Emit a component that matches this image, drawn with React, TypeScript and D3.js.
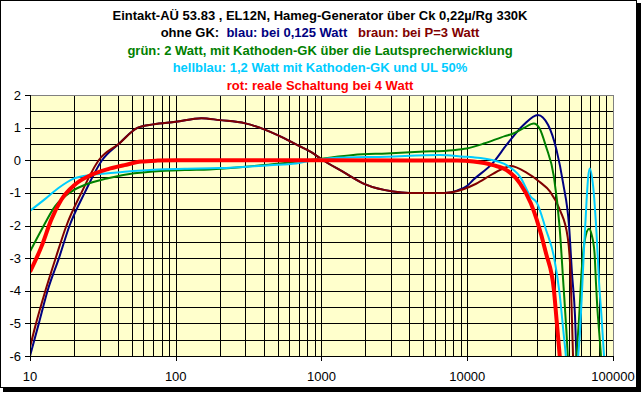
import { line, curveMonotoneX, range, scaleLinear, scaleLog } from "d3";

// frequency (Hz) and level (dB) per curve
const blueFreq = [10, 11.5, 13.2, 15.8, 18.7, 23.7, 31.2, 40.6, 55, 70, 100, 150, 200, 300, 500, 700, 850, 1000, 1400, 2000, 3100, 4000, 7000, 8500, 10000, 11000, 15000, 18600, 24300, 30500, 35900, 41000, 45500, 50000, 52300, 54900, 56500];
const blueDb = [-6, -5, -4, -3, -2, -1, 0, 0.5, 1, 1.1, 1.18, 1.29, 1.23, 1.13, 0.77, 0.44, 0.25, 0.03, -0.35, -0.74, -0.96, -1.0, -1.0, -0.93, -0.78, -0.6, -0.08, 0.47, 1.08, 1.39, 1.08, 0.31, -0.71, -2.04, -3.46, -4.79, -6.4];

const brownFreq = [10, 11, 12.75, 15, 17.8, 22.5, 29.6, 40.6, 55, 70, 100, 150, 200, 300, 500, 700, 850, 1000, 1400, 2000, 3100, 4000, 7000, 9500, 11500, 15000, 19800, 25500, 31300, 37000, 43200, 48800, 51100, 52300, 53500];
const brownDb = [-5.73, -5, -4, -3, -2, -1, 0, 0.5, 1, 1.1, 1.18, 1.29, 1.23, 1.13, 0.77, 0.44, 0.25, 0.03, -0.35, -0.74, -0.96, -1.0, -1.0, -0.88, -0.72, -0.42, -0.18, -0.38, -0.66, -0.96, -1.52, -2.34, -3.46, -4.9, -6.4];

const greenFreq = [10, 12, 14.8, 19.2, 23.7, 34.3, 52, 115, 170, 335, 520, 1000, 1650, 2800, 4700, 8000, 9900, 13200, 18100, 20700, 24700, 28600, 31300, 34700, 39300, 43000, 45800, 48000, 49500, 52500, 56200, 58600, 60800, 64100, 68500, 71500, 74700, 76400, 78000, 80500, 82400, 84000];
const greenDb = [-2.8, -2.13, -1.42, -0.96, -0.76, -0.55, -0.4, -0.3, -0.28, -0.18, -0.1, 0.05, 0.16, 0.21, 0.26, 0.31, 0.36, 0.52, 0.74, 0.82, 1.0, 1.13, 0.98, 0.42, -0.5, -2.04, -3.88, -5.3, -6.4, -8, -6.0, -4.79, -3.46, -2.44, -2.1, -2.3, -2.85, -3.75, -4.5, -5.3, -5.9, -6.5];

const lightFreq = [10, 12.6, 15.6, 20.3, 26.3, 34.3, 44.5, 75, 115, 200, 440, 670, 790, 1000, 1140, 2800, 6500, 9500, 11000, 15000, 18600, 23000, 27300, 30000, 34700, 39300, 43000, 45800, 47500, 49000, 53000, 57700, 59300, 60900, 63200, 65900, 67600, 69300, 73100, 77100, 80300, 83400, 86500, 88000];
const lightDb = [-1.55, -1.2, -0.86, -0.55, -0.45, -0.4, -0.35, -0.28, -0.26, -0.24, -0.15, -0.1, -0.04, 0.03, 0.06, 0.11, 0.16, 0.11, 0.09, 0.0, -0.15, -0.5, -1.12, -1.3, -2.13, -2.95, -4.08, -5.3, -6.0, -6.8, -8, -6.0, -5.3, -4.28, -2.75, -1.22, -0.5, -0.25, -0.81, -2.24, -3.77, -4.79, -5.9, -6.5];

const redFreq = [10, 12, 14, 16.4, 20.3, 26.3, 34.3, 44.5, 58, 75, 100, 1000, 8500, 11000, 15000, 18600, 23000, 27300, 30000, 34700, 39300, 41000, 43100, 44500];
const redDb = [-3.42, -2.64, -1.82, -1.21, -0.75, -0.45, -0.27, -0.15, -0.04, -0.01, 0, 0, -0.01, -0.04, -0.15, -0.3, -0.71, -1.32, -1.83, -2.85, -3.97, -4.89, -6.0, -6.8];

const xTickLabels = [10, 100, 1000, 10000, 100000];
const yTickLabels = [2, 1, 0, -1, -2, -3, -4, -5, -6];

const titleLines = [
  [{ t: "Eintakt-AÜ 53.83 , EL12N, Hameg-Generator über Ck 0,22µ/Rg 330K", c: "#000000" }],
  [
    { t: "ohne GK:  ", c: "#000000" },
    { t: "blau: bei 0,125 Watt   ", c: "#000080" },
    { t: "braun: bei P=3 Watt", c: "#800000" },
  ],
  [{ t: "grün: 2 Watt, mit Kathoden-GK über die Lautsprecherwicklung", c: "#008000" }],
  [{ t: "hellblau: 1,2 Watt mit Kathoden-GK und UL 50%", c: "#00CCFF" }],
  [{ t: "rot: reale Schaltung bei 4 Watt", c: "#FF0000" }],
];

const series = [
  { freq: blueFreq, db: blueDb, color: "#000080", w: 2 },
  { freq: brownFreq, db: brownDb, color: "#800000", w: 2 },
  { freq: greenFreq, db: greenDb, color: "#008000", w: 2 },
  { freq: lightFreq, db: lightDb, color: "#00CCFF", w: 2 },
  { freq: redFreq, db: redDb, color: "#FF0000", w: 4 },
];

const W = 642;
const H = 393;
const plot = { left: 30, right: 613, top: 95, bottom: 356 };
const font = "'Liberation Sans', Arial, sans-serif";

const App = () => {
  const x = scaleLog().domain([10, 100000]).range([plot.left, plot.right]);
  const y = scaleLinear().domain([-6, 2]).range([plot.bottom, plot.top]);
  const px = (v: number) => Math.round(v) + 0.5;

  const path = line<[number, number]>()
    .x((d) => x(d[0]))
    .y((d) => y(d[1]))
    .curve(curveMonotoneX);

  const gridY = range(-6, 2.01, 0.5);
  const gridX = x.ticks();

  return (
    <svg width={W} height={H} style={{ position: "absolute", left: 0, top: 0, fontFamily: font }}>
      <rect x={0} y={0} width={W} height={H} fill="#ffffff" />
      {/* chart frame with shadow */}
      <rect x={3} y={3} width={638} height={389} fill="#000000" />
      <rect x={0.5} y={0.5} width={636} height={387} fill="#ffffff" stroke="#000000" />

      {titleLines.map((segs, i) => (
        <text key={`t-${i}`} x={320} y={19.5 + i * 17.5} textAnchor="middle" fontSize={13} fontWeight="bold" style={{ whiteSpace: "pre" }}>
          {segs.map((s, j) => (
            <tspan key={j} fill={s.c}>
              {s.t}
            </tspan>
          ))}
        </text>
      ))}

      <rect x={plot.left} y={plot.top} width={plot.right - plot.left} height={plot.bottom - plot.top} fill="#FFFFCC" />
      <clipPath id="plotClip">
        <rect x={plot.left} y={plot.top} width={plot.right - plot.left} height={plot.bottom - plot.top} />
      </clipPath>

      <g stroke="#000000" strokeWidth={1} shapeRendering="crispEdges">
        {gridY.map((v) => (
          <line key={`gy-${v}`} x1={plot.left} x2={plot.right} y1={px(y(v))} y2={px(y(v))} />
        ))}
        {gridX.map((f) => (
          <line key={`gx-${f}`} x1={px(x(f))} x2={px(x(f))} y1={plot.top} y2={plot.bottom} />
        ))}
      </g>
      <rect x={plot.left + 0.5} y={plot.top + 0.5} width={plot.right - plot.left} height={plot.bottom - plot.top} fill="none" stroke="#808080" shapeRendering="crispEdges" />

      <g clipPath="url(#plotClip)" fill="none" strokeLinejoin="round">
        {series.map((s, i) => (
          <path
            key={`s-${i}`}
            d={path(s.freq.map((f, k) => [f, s.db[k]] as [number, number])) ?? ""}
            stroke={s.color}
            strokeWidth={s.w}
          />
        ))}
      </g>

      {/* axes */}
      <g stroke="#000000" shapeRendering="crispEdges">
        <line x1={px(plot.left)} x2={px(plot.left)} y1={plot.top} y2={plot.bottom + 1} />
        <line x1={plot.left} x2={plot.right + 1} y1={px(plot.bottom)} y2={px(plot.bottom)} />
        {yTickLabels.map((v) => (
          <line key={`yt-${v}`} x1={plot.left - 5} x2={plot.left} y1={px(y(v))} y2={px(y(v))} />
        ))}
        {xTickLabels.map((f) => (
          <line key={`xt-${f}`} x1={px(x(f))} x2={px(x(f))} y1={plot.bottom} y2={plot.bottom + 5} />
        ))}
      </g>
      <g fontSize={13} fill="#000000">
        {yTickLabels.map((v) => (
          <text key={`yl-${v}`} x={21} y={y(v) + 4.5} textAnchor="end">
            {v < 0 ? `-${Math.abs(v)}` : v}
          </text>
        ))}
        {xTickLabels.map((f) => (
          <text key={`xl-${f}`} x={x(f)} y={381} textAnchor="middle">
            {f}
          </text>
        ))}
      </g>
    </svg>
  );
};

export default App;
